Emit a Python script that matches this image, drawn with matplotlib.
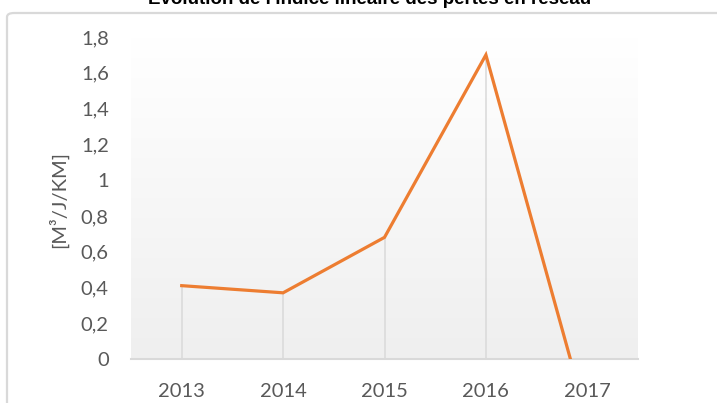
import numpy as np
import matplotlib
matplotlib.use("Agg")
import matplotlib.pyplot as plt
from matplotlib.colors import LinearSegmentedColormap
from matplotlib.patches import FancyBboxPatch

# data (2017 goes below 0, clipped by the axis)
years = ["2013", "2014", "2015", "2016", "2017"]
ili = [0.41, 0.37, 0.68, 1.70, -0.34]
yticks = [0, 0.2, 0.4, 0.6, 0.8, 1.0, 1.2, 1.4, 1.6, 1.8]
ytick_labels = ["0", "0,2", "0,4", "0,6", "0,8", "1", "1,2", "1,4", "1,6", "1,8"]
title = "Evolution de l'indice linéaire des pertes en réseau"
ylabel = "[M³/J/KM]"

W, H = 717, 403
fig = plt.figure(figsize=(W / 100, H / 100), dpi=100)
plt.rcParams['font.family'] = ['Lato', 'DejaVu Sans']

# outer chart frame (runs off the right/bottom edge like the screenshot)
frame = FancyBboxPatch((7 / W, -0.2), 1.2, (403 - 13) / H + 0.2,
                       boxstyle="round,pad=0,rounding_size=0.01",
                       transform=fig.transFigure, fill=False,
                       edgecolor="#d9d9d9", linewidth=1.6)
fig.patches.append(frame)

# title sits half outside the figure, as in the crop of the reference
fig.text(370 / W, (H - 4) / H, title, ha="center", va="baseline",
         fontsize=13.5, fontweight="bold", color="black",
         family=["Liberation Sans", "DejaVu Sans"])

left, right, top, bottom = 131, 638, 37, 359
ax = fig.add_axes([left / W, (H - bottom) / H, (right - left) / W, (bottom - top) / H])
ax.set_facecolor("none")

# plot area gradient, white on top to light gray at the bottom
cmap = LinearSegmentedColormap.from_list("bg", ["#efefef", "#ffffff"])
grad = np.linspace(1, 0, 256).reshape(-1, 1)
ax.imshow(grad, cmap=cmap, extent=(0, 1, 0, 1), transform=ax.transAxes,
          aspect="auto", zorder=0, vmin=0, vmax=1)

x = np.arange(len(years))
# drop lines from each point down to the axis
ax.vlines(x, 0, ili, color="#d9d9d9", linewidth=1.1, zorder=1)
ax.plot(x, ili, color="#ED7D31", linewidth=2.3, solid_joinstyle="miter", zorder=3)

ax.set_xlim(-0.5, len(years) - 0.5)
ax.set_ylim(0, 1.8)
ax.set_xticks(x)
ax.set_xticklabels(years)
ax.set_yticks(yticks)
ax.set_yticklabels(ytick_labels)
ax.tick_params(length=0, labelsize=14.5, labelcolor="#595959")
ax.tick_params(axis="y", pad=16)
ax.tick_params(axis="x", pad=17)

for s in ["left", "right", "top"]:
    ax.spines[s].set_visible(False)
ax.spines["bottom"].set_color("#d9d9d9")
ax.spines["bottom"].set_linewidth(1.5)

fig.text(58 / W, (H - 200) / H, ylabel, rotation=90, ha="center", va="center",
         fontsize=14.5, color="#595959")

fig.savefig("out.png", dpi=100)
